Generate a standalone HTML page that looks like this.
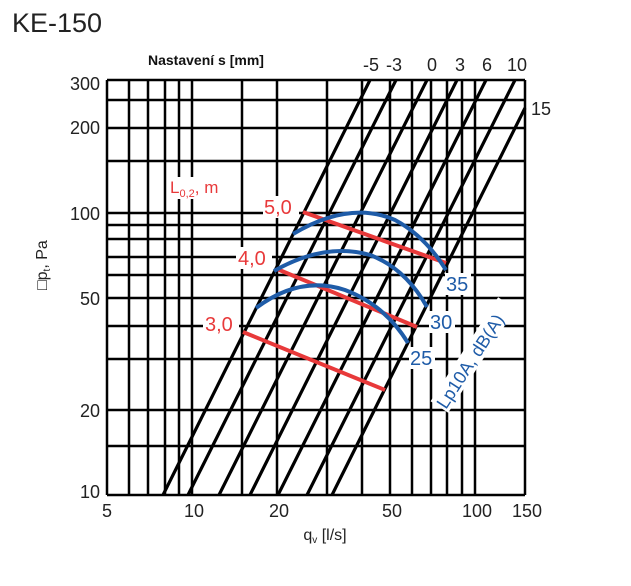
<!DOCTYPE html>
<html><head><meta charset="utf-8"><style>
body{margin:0;background:#fff;width:631px;height:581px;overflow:hidden}
text{font-family:"Liberation Sans",sans-serif}
</style></head><body>
<svg width="631" height="581" xmlns="http://www.w3.org/2000/svg">
<text x="12" y="32" font-size="27" fill="#222">KE-150</text>
<g stroke="#000" stroke-width="2.5">
<line x1="107" y1="80" x2="107" y2="495"/>
<line x1="129" y1="80" x2="129" y2="495"/>
<line x1="148" y1="80" x2="148" y2="495"/>
<line x1="165" y1="80" x2="165" y2="495"/>
<line x1="179" y1="80" x2="179" y2="495"/>
<line x1="192" y1="80" x2="192" y2="495"/>
<line x1="242" y1="80" x2="242" y2="495"/>
<line x1="277" y1="80" x2="277" y2="495"/>
<line x1="327" y1="80" x2="327" y2="495"/>
<line x1="362" y1="80" x2="362" y2="495"/>
<line x1="390" y1="80" x2="390" y2="495"/>
<line x1="412" y1="80" x2="412" y2="495"/>
<line x1="431" y1="80" x2="431" y2="495"/>
<line x1="447" y1="80" x2="447" y2="495"/>
<line x1="462" y1="80" x2="462" y2="495"/>
<line x1="475" y1="80" x2="475" y2="495"/>
<line x1="525" y1="80" x2="525" y2="495"/>
<line x1="107" y1="80" x2="525" y2="80"/>
<line x1="107" y1="100" x2="525" y2="100"/>
<line x1="107" y1="128" x2="525" y2="128"/>
<line x1="107" y1="161" x2="525" y2="161"/>
<line x1="107" y1="213" x2="525" y2="213"/>
<line x1="107" y1="225" x2="525" y2="225"/>
<line x1="107" y1="239" x2="525" y2="239"/>
<line x1="107" y1="257" x2="525" y2="257"/>
<line x1="107" y1="275" x2="525" y2="275"/>
<line x1="107" y1="298" x2="525" y2="298"/>
<line x1="107" y1="326" x2="525" y2="326"/>
<line x1="107" y1="359" x2="525" y2="359"/>
<line x1="107" y1="410" x2="525" y2="410"/>
<line x1="107" y1="446" x2="525" y2="446"/>
<line x1="107" y1="495" x2="525" y2="495"/>
</g>
<g stroke="#000" stroke-width="3.2">
<line x1="163" y1="495" x2="370" y2="80"/>
<line x1="188" y1="495" x2="396" y2="80"/>
<line x1="219" y1="495" x2="427" y2="80"/>
<line x1="250" y1="495" x2="457" y2="80"/>
<line x1="278" y1="495" x2="486" y2="80"/>
<line x1="307" y1="495" x2="515" y2="80"/>
<line x1="332" y1="495" x2="525" y2="108"/>
</g>
<g stroke="#e8393a" stroke-width="4" fill="none">
<line x1="303" y1="212" x2="446" y2="263"/>
<line x1="277" y1="269" x2="417" y2="327"/>
<line x1="243" y1="332" x2="385" y2="390"/>
</g>
<g stroke="#1f5ca8" stroke-width="4" fill="none">
<path d="M293,234 Q350,200 395,220 Q425,236 446,270"/>
<path d="M274,271 Q325,242 370,255 Q405,268 427,307"/>
<path d="M256,308 Q300,275 345,290 Q385,305 408,343"/>
</g>
<g fill="#fff">
<rect x="263" y="196" width="36" height="22"/>
<rect x="236" y="247" width="36" height="22"/>
<rect x="203" y="313" width="36" height="22"/>
<rect x="168" y="177" width="62" height="22"/>
<rect x="445" y="273" width="26" height="22"/>
<rect x="429" y="311" width="26" height="22"/>
<rect x="409" y="347" width="26" height="22"/>
<rect x="0" y="-16" width="124" height="21" transform="translate(444,410) rotate(-57)"/>
</g>
<g fill="#e8393a" font-size="20">
<text x="264" y="214">5,0</text>
<text x="238" y="265">4,0</text>
<text x="205" y="331">3,0</text>
<text x="170" y="193" font-size="17">L<tspan font-size="11" dy="4">0,2</tspan><tspan dy="-4">, m</tspan></text>
</g>
<g fill="#1f5ca8" font-size="20">
<text x="446" y="291">35</text>
<text x="430" y="329">30</text>
<text x="410" y="365">25</text>
<text transform="translate(446,410) rotate(-57)" font-size="18">Lp10A, dB(A)</text>
</g>
<g font-size="18" fill="#222" text-anchor="middle">
<text x="107" y="517">5</text>
<text x="194" y="517">10</text>
<text x="279" y="517">20</text>
<text x="392" y="517">50</text>
<text x="477" y="517">100</text>
<text x="527" y="517">150</text>
<text x="325" y="540" font-size="16">q<tspan font-size="10" dy="3">v</tspan><tspan dy="-3"> [l/s]</tspan></text>
</g>
<g font-size="18" fill="#222" text-anchor="end">
<text x="100" y="90">300</text>
<text x="100" y="134">200</text>
<text x="100" y="220">100</text>
<text x="100" y="305">50</text>
<text x="100" y="417">20</text>
<text x="100" y="498">10</text>
</g>
<text transform="translate(47,290) rotate(-90)" font-size="16" fill="#222">□p<tspan font-size="10" dy="3">t</tspan><tspan dy="-3">, Pa</tspan></text>
<text x="148" y="65" font-size="14" font-weight="bold" fill="#111">Nastavení s [mm]</text>
<g font-size="18" fill="#222" text-anchor="middle">
<text x="371" y="71">-5</text>
<text x="394" y="71">-3</text>
<text x="432" y="71">0</text>
<text x="460" y="71">3</text>
<text x="487" y="71">6</text>
<text x="517" y="71">10</text>
<text x="541" y="115">15</text>
</g>
</svg>
</body></html>
